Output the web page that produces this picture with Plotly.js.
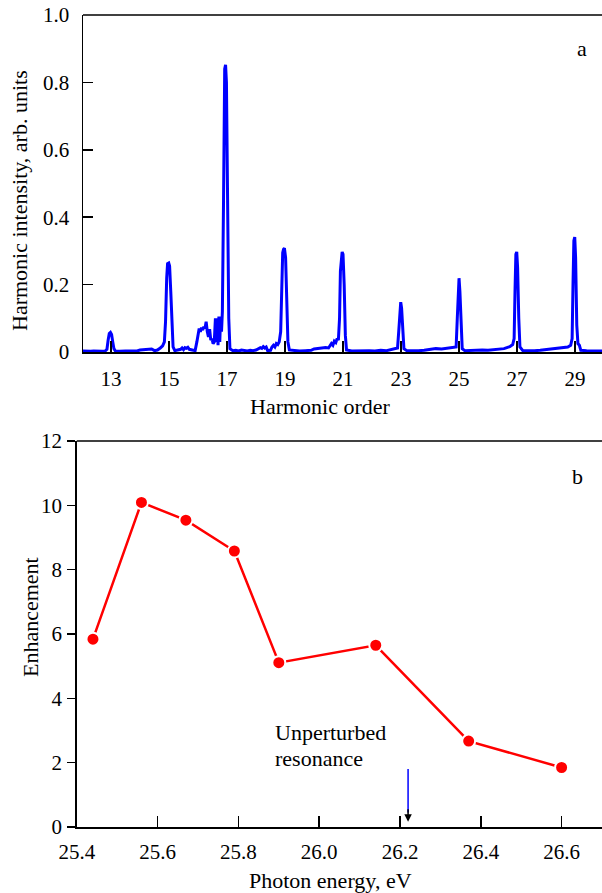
<!DOCTYPE html>
<html>
<head>
<meta charset="utf-8">
<script src="https://cdn.plot.ly/plotly-3.0.1.min.js"></script>
<style>html,body{margin:0;padding:0;background:#fff;}#chart{width:602px;height:893px;}</style>
</head>
<body>
<div id="chart"></div>
<script>
// Panel a: harmonic spectrum
const harmonicOrder = [
12.0,12.1,12.2,12.3,12.4,12.5,12.6,12.7,12.8,12.86,12.9,12.94,12.98,13.02,13.06,13.1,13.15,
13.3,13.5,13.7,13.9,14.0,14.1,14.2,14.3,14.4,14.5,14.6,14.7,14.78,14.84,14.88,14.92,14.95,14.99,15.02,15.06,15.1,15.14,15.2,
15.3,15.4,15.45,15.5,15.55,15.6,15.65,15.7,15.8,15.9,15.96,16.0,16.04,16.08,16.12,16.16,16.2,16.24,16.28,16.32,16.36,16.4,16.44,16.48,16.52,16.56,
16.6,16.63,16.66,16.69,16.72,16.75,16.78,16.81,16.84,16.88,16.92,16.95,16.98,17.02,17.06,17.1,17.2,17.3,17.4,17.5,17.6,17.7,17.8,17.9,
18.0,18.1,18.15,18.2,18.25,18.3,18.35,18.4,18.5,18.55,18.6,18.65,18.7,18.75,18.8,18.85,18.89,18.92,18.95,18.98,19.02,19.06,19.1,19.15,
19.3,19.5,19.7,19.9,20.0,20.1,20.2,20.3,20.4,20.5,20.55,20.6,20.65,20.7,20.75,20.8,20.84,20.88,20.91,20.94,20.97,21.0,21.04,21.08,21.12,
21.3,21.5,21.7,21.9,22.1,22.3,22.5,22.6,22.7,22.8,22.88,22.92,22.96,22.99,23.02,23.06,23.1,23.2,
23.4,23.6,23.8,24.0,24.2,24.4,24.6,24.8,24.9,24.94,24.97,25.0,25.03,25.07,25.11,25.2,
25.4,25.6,25.8,26.0,26.2,26.4,26.55,26.65,26.75,26.85,26.9,26.93,26.96,26.99,27.02,27.06,27.1,27.2,
27.4,27.6,27.8,28.0,28.2,28.4,28.6,28.75,28.85,28.9,28.93,28.96,28.99,29.02,29.06,29.1,29.15,29.2,29.4,29.6,29.8,30.0
];
const harmonicIntensity = [
0.003,0.002,0.003,0.002,0.003,0.002,0.003,0.002,0.003,0.008,0.035,0.055,0.058,0.052,0.03,0.01,0.003,
0.002,0.003,0.002,0.003,0.006,0.007,0.009,0.008,0.009,0.004,0.006,0.012,0.018,0.03,0.09,0.22,0.262,0.264,0.255,0.18,0.07,0.015,0.004,
0.005,0.008,0.012,0.007,0.013,0.011,0.014,0.008,0.006,0.004,0.03,0.055,0.07,0.06,0.072,0.065,0.075,0.07,0.09,0.06,0.045,0.068,0.035,0.04,0.025,0.03,
0.1,0.03,0.1,0.02,0.105,0.03,0.105,0.06,0.12,0.45,0.84,0.852,0.8,0.45,0.1,0.01,0.004,0.005,0.003,0.006,0.004,0.003,0.005,0.004,
0.006,0.01,0.013,0.011,0.016,0.012,0.015,0.004,0.005,0.015,0.02,0.015,0.025,0.022,0.03,0.06,0.2,0.295,0.305,0.308,0.28,0.15,0.03,0.006,
0.004,0.003,0.004,0.005,0.009,0.01,0.012,0.011,0.013,0.012,0.018,0.025,0.02,0.032,0.028,0.04,0.035,0.1,0.24,0.265,0.297,0.29,0.2,0.05,0.006,
0.003,0.004,0.003,0.004,0.003,0.005,0.004,0.006,0.007,0.009,0.012,0.06,0.13,0.148,0.13,0.05,0.01,0.004,
0.003,0.004,0.005,0.008,0.01,0.009,0.011,0.012,0.015,0.1,0.2,0.219,0.18,0.06,0.01,0.004,
0.005,0.004,0.006,0.005,0.007,0.008,0.01,0.013,0.016,0.022,0.04,0.18,0.29,0.297,0.25,0.1,0.015,0.004,
0.003,0.004,0.005,0.007,0.008,0.01,0.012,0.015,0.02,0.04,0.2,0.33,0.341,0.28,0.08,0.025,0.02,0.005,0.004,0.003,0.004,0.003
];
const harmonicTicks = [13,15,17,19,21,23,25,27,29];
const intensityTicks = [0,0.2,0.4,0.6,0.8,1.0];
const intensityTickText = ["0","0.2","0.4","0.6","0.8","1.0"];

// Panel b: enhancement vs photon energy
const photonEnergy = [25.44,25.56,25.67,25.79,25.90,26.14,26.37,26.60];
const enhancement = [5.84,10.09,9.54,8.58,5.11,5.65,2.67,1.85];
const energyTicks = [25.4,25.6,25.8,26.0,26.2,26.4,26.6];
const energyTickText = ["25.4","25.6","25.8","26.0","26.2","26.4","26.6"];
const enhancementTicks = [0,2,4,6,8,10,12];
const resonanceEnergy = 26.22;

const FONT = "Liberation Serif";
const FT = 21;   // tick labels
const FL = 22;   // titles / text
const H = 893, W = 602;

const traces = [
  {x: harmonicOrder, y: harmonicIntensity, type: 'scatter', mode: 'lines',
   line: {color: '#0000ff', width: 3}, xaxis: 'x', yaxis: 'y', hoverinfo: 'skip'},
  {x: photonEnergy, y: enhancement, type: 'scatter', mode: 'lines+markers',
   line: {color: '#ff0000', width: 2.5},
   marker: {color: '#ff0000', size: 13, line: {color: '#ffffff', width: 2}},
   xaxis: 'x2', yaxis: 'y2', hoverinfo: 'skip'}
];

const axisCommon = {
  showline: true, linecolor: '#000', linewidth: 1.5, showgrid: false, zeroline: false,
  ticks: 'inside', tickcolor: '#000', tickwidth: 1.5, ticklen: 10,
  tickfont: {family: FONT, size: FT, color: '#000'}, automargin: false, fixedrange: true
};

function paperText(text, px, py, angle) {
  return {xref: 'paper', yref: 'paper', x: px / W, y: 1 - py / H, text: text, showarrow: false,
          xanchor: 'center', yanchor: 'middle', textangle: angle || 0,
          font: {family: FONT, size: FL, color: '#000'}};
}

const layout = {
  width: W, height: H,
  margin: {l: 0, r: 0, t: 0, b: 0},
  paper_bgcolor: '#fff', plot_bgcolor: 'rgba(0,0,0,0)',
  showlegend: false,
  font: {family: FONT, size: FL, color: '#000'},
  xaxis: Object.assign({}, axisCommon, {
    domain: [83/W, 1], range: [12.034, 29.93], anchor: 'y',
    tickmode: 'array', tickvals: harmonicTicks, ticklen: 11, ticklabelstandoff: 7
  }),
  yaxis: Object.assign({}, axisCommon, {
    domain: [1-352/H, 1-15/H], range: [0, 1.0], anchor: 'x',
    tickmode: 'array', tickvals: intensityTicks, ticktext: intensityTickText, ticklabelstandoff: 8
  }),
  xaxis2: Object.assign({}, axisCommon, {
    domain: [76.8/W, 1], range: [25.4, 26.7], anchor: 'y2',
    tickmode: 'array', tickvals: energyTicks, ticktext: energyTickText, ticklen: 11, ticklabelstandoff: 5
  }),
  yaxis2: Object.assign({}, axisCommon, {
    domain: [1-827/H, 1-441/H], range: [0, 12], anchor: 'x2',
    tickmode: 'array', tickvals: enhancementTicks, ticks: 'outside', ticklen: 8, ticklabelstandoff: 1
  }),
  shapes: [
    {type: 'line', xref: 'x domain', yref: 'y domain', x0: 0, x1: 1, y0: 1, y1: 1, line: {color: '#000', width: 1.5}},
    {type: 'line', xref: 'x2 domain', yref: 'y2 domain', x0: 0, x1: 1, y0: 1, y1: 1, line: {color: '#000', width: 1.5}},
    {type: 'line', xref: 'x2', yref: 'y2', x0: resonanceEnergy, x1: resonanceEnergy, y0: 1.8, y1: 0.45, line: {color: '#0000ff', width: 1.5}}
  ],
  annotations: [
    paperText('Harmonic order', 320, 406),
    paperText('Harmonic intensity, arb. units', 19, 201, -90),
    paperText('Photon energy, eV', 330, 880),
    paperText('Enhancement', 30, 617, -90),
    {xref: 'x', yref: 'y', x: 29.24, y: 0.902, text: 'a', showarrow: false, font: {family: FONT, size: FL}},
    {xref: 'x2', yref: 'y2', x: 26.64, y: 10.9, text: 'b', showarrow: false, font: {family: FONT, size: FL}},
    {xref: 'x2', yref: 'y2', x: 25.885, y: 2.95, text: 'Unperturbed', xanchor: 'left', showarrow: false, font: {family: FONT, size: FL}},
    {xref: 'x2', yref: 'y2', x: 25.885, y: 2.14, text: 'resonance', xanchor: 'left', showarrow: false, font: {family: FONT, size: FL}},
    {xref: 'x2', yref: 'y2', x: resonanceEnergy, y: 0.16, ax: 0, ay: -14, text: '', showarrow: true,
     arrowhead: 2, arrowsize: 1, arrowwidth: 1.5, arrowcolor: '#000'}
  ]
};

Plotly.newPlot('chart', traces, layout, {staticPlot: true, displayModeBar: false});
</script>
</body>
</html>
